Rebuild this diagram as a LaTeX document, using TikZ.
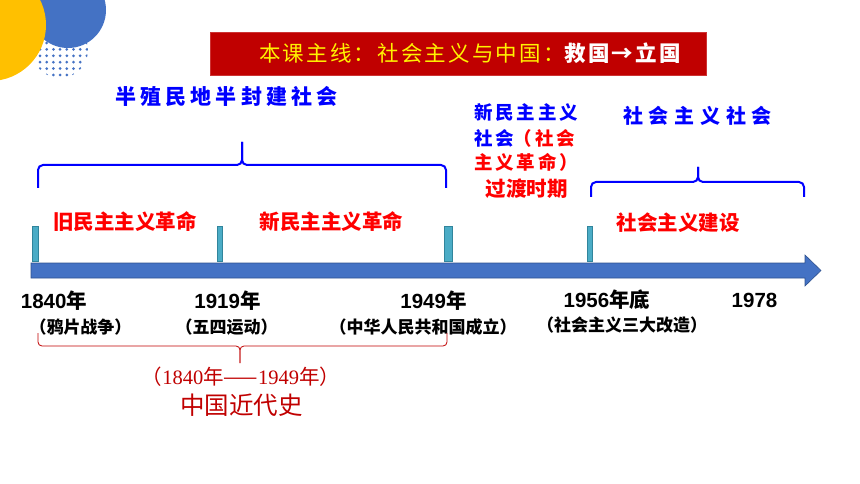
\documentclass[tikz,border=0pt]{standalone}
\usepackage{fontspec}
\newfontfamily\cjk{Noto Sans CJK SC}
\newfontfamily\lsans{Liberation Sans}
\newfontfamily\lserif{Liberation Serif}
\newcommand\fsz[1]{\fontsize{#1}{#1}\selectfont}
\definecolor{cblue}{HTML}{4472C4}
\definecolor{cblueb}{HTML}{2F528F}
\definecolor{cyellow}{HTML}{FFC000}
\definecolor{titlered}{HTML}{C00000}
\definecolor{tickfill}{HTML}{4BACC6}
\definecolor{tickdraw}{HTML}{31859C}
\definecolor{txtblue}{HTML}{0000FF}
\definecolor{txtred}{HTML}{FF0000}
\definecolor{darkred}{HTML}{C00000}
\tikzset{
  lbl/.style={inner sep=0pt, outer sep=0pt},
  tickbox/.style={fill=tickfill, draw=tickdraw, line width=0.8pt},
  bracebl/.style={draw=txtblue, line width=2pt, rounded corners=5pt},
  bracerd/.style={draw=darkred, line width=0.8pt, rounded corners=4pt},
  yearlbl/.style={lbl, font=\lsans\bfseries\fsz{20.5}},
  parlbl/.style={lbl, font=\cjk\bfseries\fsz{17}},
  redlbl/.style={lbl, text=txtred, font=\cjk\bfseries\fsz{20.5}},
}
\begin{document}
\begin{tikzpicture}[x=1pt,y=-1pt]
\useasboundingbox (0,0) rectangle (860,484);
\clip (0,0) rectangle (860,484);
% decoration
\begin{scope}
\clip (60,50) circle (28pt);
\foreach \i in {0,...,9}{\foreach \j in {0,...,7}{\fill[cblue] (33.3+\i*6.7, 36.6+\j*6.4) circle (1.5pt);}}
\end{scope}
\fill[cblue] (68,10) circle (38pt);
\fill[cyellow] (-10,25) circle (56pt);
% title
\node[lbl, fill=titlered, draw=titlered!80!white, minimum width=496pt, minimum height=43pt] (titlebox) at (458,53.5) {};
\node[lbl, font=\cjk\fsz{21.5}] (title) at (470,53.5) {\addfontfeature{LetterSpace=10}{\color{yellow}本课主线：社会主义与中国：}{\color{white}\bfseries 救国→立国}};
% blue society labels
\node[lbl, anchor=west, text=txtblue, font=\cjk\bfseries\fsz{21}] (semi) at (115,97) {\addfontfeature{LetterSpace=20}半殖民地半封建社会};
\node[lbl, anchor=west, text=txtblue, font=\cjk\bfseries\fsz{20}] (soc) at (623,116) {\addfontfeature{LetterSpace=29}社会主义社会};
\node[lbl, anchor=west, text=txtblue, font=\cjk\bfseries\fsz{18.5}] (m1) at (474,112) {\addfontfeature{LetterSpace=16}新民主主义};
\node[lbl, anchor=west, font=\cjk\bfseries\fsz{18.5}] (m2) at (474,138) {\addfontfeature{LetterSpace=16}{\color{txtblue}社会}{\color{txtred}（社会}};
\node[lbl, anchor=west, text=txtred, font=\cjk\bfseries\fsz{18.5}] (m3) at (474,162) {\addfontfeature{LetterSpace=16}主义革命）};
\node[redlbl] (trans) at (526.5,189) {过渡时期};
% braces
\draw[bracebl] (38,188) -- (38,165) -- (242,165) -- (242,142);
\draw[bracebl] (242,142) -- (242,165) -- (446,165) -- (446,188);
\draw[bracebl] (591,197) -- (591,182) -- (698,182) -- (698,167);
\draw[bracebl] (698,167) -- (698,182) -- (804,182) -- (804,197);
% red phase labels
\node[redlbl] (old) at (125,222) {旧民主主义革命};
\node[redlbl] (new) at (331.5,222) {新民主主义革命};
\node[redlbl] (build) at (678,223) {社会主义建设};
% ticks
\draw[tickbox] (32,226) rectangle (38,261);
\draw[tickbox] (217,226) rectangle (222,261);
\draw[tickbox] (444,226) rectangle (452,261);
\draw[tickbox] (587,226) rectangle (592,261);
% arrow
\draw[fill=cblue, draw=cblueb, line width=0.6pt] (31,263) -- (805,263) -- (805,255) -- (821,270.5) -- (805,286) -- (805,278) -- (31,278) -- cycle;
% years
\node[yearlbl] (y1840) at (54,301) {1840\cjk 年};
\node[yearlbl] (y1919) at (227.5,301) {1919\cjk 年};
\node[yearlbl] (y1949) at (433.5,301) {1949\cjk 年};
\node[yearlbl] (y1956) at (607,300) {1956\cjk 年底};
\node[yearlbl] (y1978) at (754.5,300) {1978};
\node[parlbl] (p1840) at (80.5,327) {（鸦片战争）};
\node[parlbl] (p1919) at (226.5,327) {（五四运动）};
\node[parlbl] (p1949) at (423,327) {（中华人民共和国成立）};
\node[parlbl] (p1956) at (622,325) {（社会主义三大改造）};
% red bottom brace
\draw[bracerd] (38,333) -- (38,346) -- (240,346) -- (240,363);
\draw[bracerd] (240,363) -- (240,346) -- (447,346) -- (447,333);
\node[lbl, text=darkred, font=\cjk\fsz{20.5}] (range) at (241,377) {（{\lserif 1840}年——{\lserif 1949}年）};
\node[lbl, text=darkred, font=\cjk\fsz{24.5}] (modern) at (241.5,405) {中国近代史};
\end{tikzpicture}
\end{document}
